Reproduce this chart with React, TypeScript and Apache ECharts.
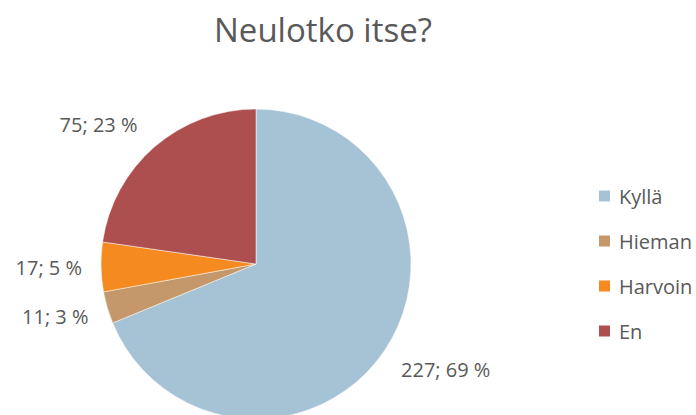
import React, { useEffect, useRef } from "react";
import * as echarts from "echarts";

const categories = ["Kyllä", "Hieman", "Harvoin", "En"];
const values = [227, 11, 17, 75];
const percents = [69, 3, 5, 23];
const colors = ["#A6C3D5", "#C4986A", "#F58B20", "#AD4F4F"];
const titleText = "Neulotko itse?";
// label offsets (line length from pie edge, horizontal distance) per slice
const labelLineLengths = [34, 30, 14, 29];
const labelDistances = [-12, -10, 5, -2];

export default function App() {
  const ref = useRef<HTMLDivElement>(null);
  useEffect(() => {
    document.body.style.margin = "0";
    if (!ref.current) return;
    const chart = echarts.init(ref.current, undefined, { renderer: "svg" });
    const fontFamily = "'Open Sans', 'Liberation Sans', sans-serif";
    chart.setOption({
      animation: false,
      textStyle: { fontFamily },
      title: {
        text: titleText,
        left: 209,
        top: 8,
        textStyle: { fontSize: 33, fontWeight: "normal", color: "#595959", fontFamily },
      },
      legend: {
        orient: "vertical",
        left: 592,
        top: 181,
        itemWidth: 13,
        itemHeight: 13,
        itemGap: 25,
        icon: "rect",
        textStyle: { fontSize: 20, color: "#595959", padding: [0, 0, 0, 3] },
        data: categories,
      },
      series: [
        {
          type: "pie",
          center: [256, 264],
          radius: 155,
          startAngle: 90,
          clockwise: true,
          avoidLabelOverlap: false,
          data: categories.map((c, i) => ({
            name: c,
            value: values[i],
            itemStyle: { color: colors[i] },
            label: {
              formatter: `${values[i]}; ${percents[i]} %`,
              distanceToLabelLine: labelDistances[i],
            },
            labelLine: { length: labelLineLengths[i], length2: 0 },
          })),
          itemStyle: { borderColor: "#ffffff", borderWidth: 0.5 },
          label: {
            show: true,
            position: "outside",
            fontSize: 20,
            color: "#595959",
            fontFamily,
          },
          labelLine: { show: false },
        },
      ],
    });
    return () => chart.dispose();
  }, []);
  return <div ref={ref} style={{ width: 696, height: 415 }} />;
}
